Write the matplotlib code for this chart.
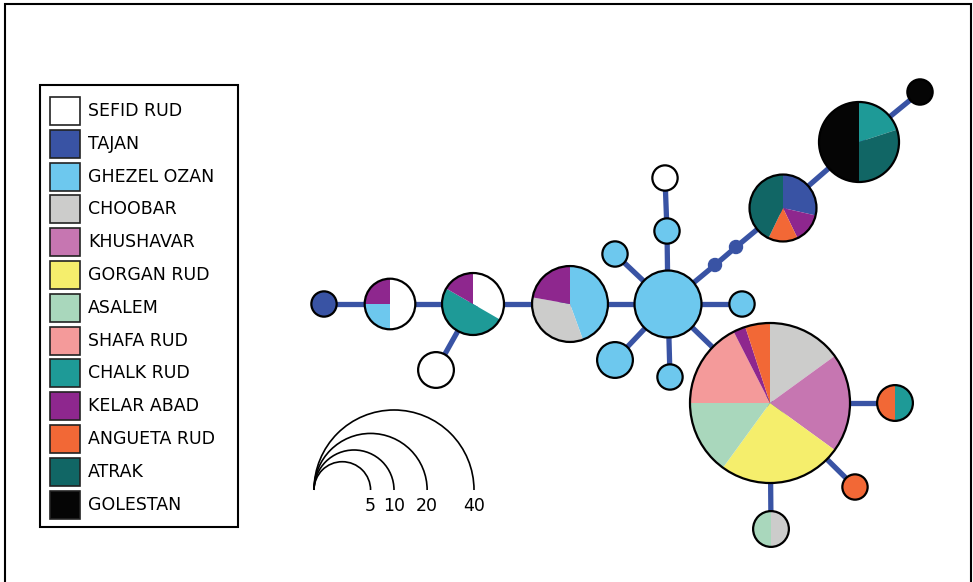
import matplotlib.pyplot as plt
from matplotlib.patches import Wedge, Circle, Rectangle, Arc

# populations (legend order) and their colours
populations = ["SEFID RUD", "TAJAN", "GHEZEL OZAN", "CHOOBAR", "KHUSHAVAR",
               "GORGAN RUD", "ASALEM", "SHAFA RUD", "CHALK RUD", "KELAR ABAD",
               "ANGUETA RUD", "ATRAK", "GOLESTAN"]
pop_colors = ["#FFFFFF", "#3953A4", "#6DC8EE", "#CCCCCB", "#C676B1",
              "#F5EE6C", "#A9D7BC", "#F49A9A", "#1E9A97", "#8E278E",
              "#F26836", "#116665", "#050505"]

# haplotypes: number of individuals from each population (legend order)
hap_ids = ["H01", "H02", "H03", "H04", "H05", "H06", "H07", "H08", "H09",
           "H10", "H11", "H12", "H13", "H14", "H15", "H16", "H17", "H18",
           "H19"]
hap_counts = [
    [0, 1, 0, 0, 0, 0, 0, 0, 0, 0, 0, 0, 0],   # H01
    [2, 0, 1, 0, 0, 0, 0, 0, 0, 1, 0, 0, 0],   # H02
    [2, 0, 0, 0, 0, 0, 0, 0, 3, 1, 0, 0, 0],   # H03
    [2, 0, 0, 0, 0, 0, 0, 0, 0, 0, 0, 0, 0],   # H04
    [0, 0, 4, 3, 0, 0, 0, 0, 0, 2, 0, 0, 0],   # H05
    [0, 0, 7, 0, 0, 0, 0, 0, 0, 0, 0, 0, 0],   # H06
    [0, 0, 1, 0, 0, 0, 0, 0, 0, 0, 0, 0, 0],   # H07
    [1, 0, 0, 0, 0, 0, 0, 0, 0, 0, 0, 0, 0],   # H08
    [0, 0, 1, 0, 0, 0, 0, 0, 0, 0, 0, 0, 0],   # H09
    [0, 0, 1, 0, 0, 0, 0, 0, 0, 0, 0, 0, 0],   # H10
    [0, 0, 2, 0, 0, 0, 0, 0, 0, 0, 0, 0, 0],   # H11
    [0, 0, 1, 0, 0, 0, 0, 0, 0, 0, 0, 0, 0],   # H12
    [0, 2, 0, 0, 0, 0, 0, 0, 0, 1, 1, 3, 0],   # H13
    [0, 0, 0, 0, 0, 0, 0, 0, 2, 0, 0, 3, 5],   # H14
    [0, 0, 0, 0, 0, 0, 0, 0, 0, 0, 0, 0, 1],   # H15
    [0, 0, 0, 6, 8, 10, 6, 7, 0, 1, 2, 0, 0],  # H16
    [0, 0, 0, 0, 0, 0, 0, 0, 1, 0, 1, 0, 0],   # H17
    [0, 0, 0, 0, 0, 0, 0, 0, 0, 0, 1, 0, 0],   # H18
    [0, 0, 0, 1, 0, 0, 1, 0, 0, 0, 0, 0, 0],   # H19
]
# median vectors (missing haplotypes)
median_ids = ["mv1", "mv2"]

# network links
edges = [("H01", "H02"), ("H02", "H03"), ("H03", "H04"), ("H03", "H05"),
         ("H05", "H06"), ("H06", "H07"), ("H07", "H08"), ("H06", "H09"),
         ("H06", "H10"), ("H06", "H11"), ("H06", "H12"), ("H06", "mv1"),
         ("mv1", "mv2"), ("mv2", "H13"), ("H13", "H14"), ("H14", "H15"),
         ("H06", "H16"), ("H16", "H17"), ("H16", "H18"), ("H16", "H19")]

scale_sizes = [5, 10, 20, 40]

# node layout (pixel positions on the page)
layout = {
    "H01": (324, 304), "H02": (390, 304), "H03": (473, 304), "H04": (436, 370),
    "H05": (570, 304), "H06": (668, 304), "H07": (667, 231), "H08": (665, 178),
    "H09": (615, 254), "H10": (742, 304), "H11": (615, 360), "H12": (670, 377),
    "H13": (783, 208), "H14": (859, 142), "H15": (920, 92), "H16": (770, 403),
    "H17": (895, 403), "H18": (855, 487), "H19": (771, 529),
    "mv1": (715, 265), "mv2": (736, 247),
}

W, H = 973, 582
R1 = 12.65  # radius of a one-sample circle


def radius(n):
    return R1 * n ** 0.5


def xy(p):
    return p[0], H - p[1]


fig = plt.figure(figsize=(W / 100, H / 100), dpi=100)
ax = fig.add_axes([0, 0, 1, 1])
ax.set_xlim(0, W)
ax.set_ylim(0, H)
ax.set_aspect("equal")
ax.axis("off")

# outer frame (bottom edge runs off the page)
ax.add_patch(Rectangle((5, -10), 966, H - 4 + 10, fill=False, ec="black", lw=1.5))

link_color = "#3953A4"
for a, b in edges:
    xa, ya = xy(layout[a])
    xb, yb = xy(layout[b])
    ax.plot([xa, xb], [ya, yb], color=link_color, lw=3.8,
            solid_capstyle="butt", zorder=1)

for m in median_ids:
    ax.add_patch(Circle(xy(layout[m]), 6.5, color=link_color, zorder=2))

for hid, counts in zip(hap_ids, hap_counts):
    cx, cy = xy(layout[hid])
    total = sum(counts)
    r = radius(total)
    theta = 90.0
    for c, col in zip(counts, pop_colors):
        if c == 0:
            continue
        span = 360.0 * c / total
        ax.add_patch(Wedge((cx, cy), r, theta - span, theta, fc=col,
                           ec="none", zorder=3))
        theta -= span
    ax.add_patch(Circle((cx, cy), r, fill=False, ec="black", lw=1.6, zorder=4))

# size scale
x0, y0 = 314, H - 490
for n in scale_sizes:
    r = radius(n)
    ax.add_patch(Arc((x0 + r, y0), 2 * r, 2 * r, theta1=0, theta2=180,
                     color="black", lw=1.2))
    ax.text(x0 + 2 * r, y0 - 16, str(n), ha="center", va="center",
            fontsize=12.5)

# legend
ax.add_patch(Rectangle((40, H - 527), 198, 442, fill=False, ec="black", lw=1.5))
row0, step = 111, 32.8
for i, (name, col) in enumerate(zip(populations, pop_colors)):
    yc = H - (row0 + i * step)
    ax.add_patch(Rectangle((50, yc - 14), 30, 28, fc=col, ec="#222222", lw=1.2))
    ax.text(88, yc, name, ha="left", va="center", fontsize=12.5)

fig.savefig("out.png", dpi=100)
